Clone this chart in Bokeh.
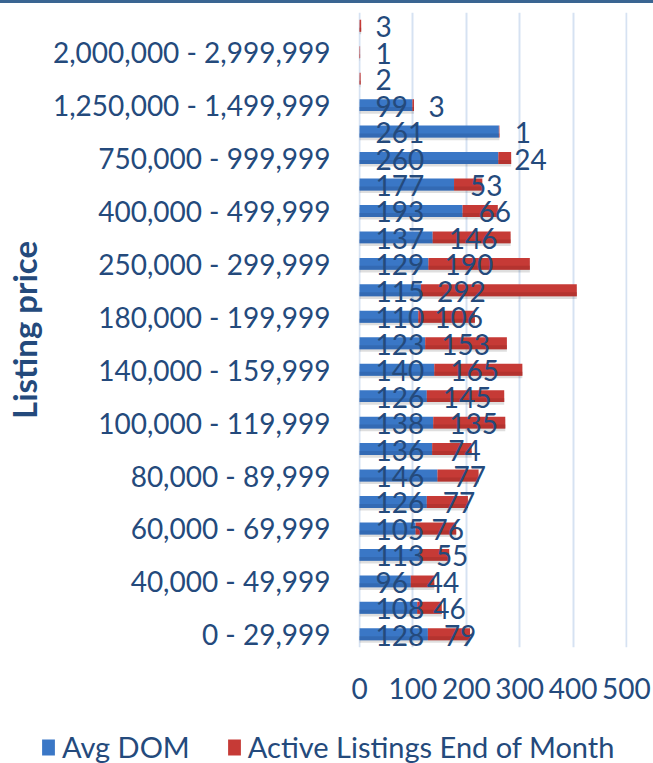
from bokeh.plotting import figure
from bokeh.models import (FactorRange, Range1d, ColumnDataSource, Legend, LegendItem,
                          FixedTicker, Div, CustomJSTickFormatter)
from bokeh.layouts import column
from bokeh.transform import dodge
from bokeh.core.properties import value
from bokeh.embed import file_html
from bokeh.resources import INLINE

# ---------------- data (bottom to top) ----------------
categories = [
    "0 - 29,999", "30,000 - 39,999", "40,000 - 49,999", "50,000 - 59,999",
    "60,000 - 69,999", "70,000 - 79,999", "80,000 - 89,999", "90,000 - 99,999",
    "100,000 - 119,999", "120,000 - 139,999", "140,000 - 159,999", "160,000 - 179,999",
    "180,000 - 199,999", "200,000 - 249,999", "250,000 - 299,999", "300,000 - 399,999",
    "400,000 - 499,999", "500,000 - 749,999", "750,000 - 999,999", "1,000,000 - 1,249,999",
    "1,250,000 - 1,499,999", "1,500,000 - 1,999,999", "2,000,000 - 2,999,999", "3,000,000+",
]
shown_labels = [
    "0 - 29,999", "40,000 - 49,999", "60,000 - 69,999", "80,000 - 89,999",
    "100,000 - 119,999", "140,000 - 159,999", "180,000 - 199,999", "250,000 - 299,999",
    "400,000 - 499,999", "750,000 - 999,999", "1,250,000 - 1,499,999", "2,000,000 - 2,999,999",
]
avg_dom = [128, 108, 96, 113, 105, 126, 146, 136, 138, 126, 140, 123,
           110, 115, 129, 137, 193, 177, 260, 261, 99, 0, 0, 0]
active_listings = [79, 46, 44, 55, 76, 77, 77, 74, 135, 145, 165, 153,
                   106, 292, 190, 146, 66, 53, 24, 1, 3, 2, 1, 3]
x_ticks = [0, 100, 200, 300, 400, 500]
series_names = ["Avg DOM", "Active Listings End of Month"]
axis_title = "Listing price"

# ---------------- styling ----------------
BLUE = "#3a77c6"
BLUE_DARK = "#2f63a9"
RED = "#c63a36"
RED_DARK = "#a92f2c"
TEXT = "#244a7c"
GRID = "#d6e2f2"
FONT = "Lato"

totals = [a + b for a, b in zip(avg_dom, active_listings)]
src = ColumnDataSource(dict(
    cat=categories, dom=avg_dom, act=active_listings, total=totals,
    zero=[0] * len(categories),
    dom_txt=[str(v) if v else "" for v in avg_dom],
    act_txt=[str(v) for v in active_listings],
))

p = figure(
    width=653, height=724,
    y_range=FactorRange(factors=categories, range_padding=0),
    x_range=Range1d(-2, 502),
    output_backend="svg", toolbar_location=None,
    min_border_left=357, min_border_right=26, min_border_top=9, min_border_bottom=80,
)
p.outline_line_color = None
p.background_fill_color = "white"
p.border_fill_color = "white"

# grid
p.xgrid.ticker = FixedTicker(ticks=x_ticks)
p.xgrid.grid_line_color = GRID
p.xgrid.grid_line_width = 2
p.ygrid.grid_line_color = None

# shadows
p.hbar(y=dodge("cat", -0.1, range=p.y_range), left="zero", right="total", height=0.45,
       source=src, fill_color="black", fill_alpha=0.13, line_color=None)

# bars
r_blue = p.hbar(y="cat", left="zero", right="dom", height=0.45, source=src,
                fill_color=BLUE, line_color=None)
r_red = p.hbar(y="cat", left="dom", right="total", height=0.45, source=src,
               fill_color=RED, line_color=None)
# darker lower band (gradient look)
p.hbar(y=dodge("cat", -0.15, range=p.y_range), left="zero", right="dom", height=0.15,
       source=src, fill_color=BLUE_DARK, fill_alpha=0.6, line_color=None)
p.hbar(y=dodge("cat", -0.15, range=p.y_range), left="dom", right="total", height=0.15,
       source=src, fill_color=RED_DARK, fill_alpha=0.6, line_color=None)

# data labels (inside base)
p.text(x="zero", y="cat", text="dom_txt", source=src, x_offset=16, y_offset=1,
       text_align="left", text_baseline="middle", text_color=TEXT,
       text_font=value(FONT), text_font_size="28px")
p.text(x="dom", y="cat", text="act_txt", source=src, x_offset=16, y_offset=1,
       text_align="left", text_baseline="middle", text_color=TEXT,
       text_font=value(FONT), text_font_size="28px")

# axes
xa = p.xaxis[0]
xa.ticker = FixedTicker(ticks=x_ticks)
xa.axis_line_color = None
xa.major_tick_line_color = None
xa.minor_tick_line_color = None
xa.major_label_standoff = 24
xa.major_label_text_font = FONT
xa.major_label_text_font_size = "28px"
xa.major_label_text_color = TEXT

ya = p.yaxis[0]
ya.axis_line_color = None
ya.major_tick_line_color = None
ya.minor_tick_line_color = None
ya.major_label_standoff = 22
ya.major_label_text_font = FONT
ya.major_label_text_font_size = "28px"
ya.major_label_text_color = TEXT
ya.formatter = CustomJSTickFormatter(
    args=dict(shown=shown_labels),
    code="return shown.includes(tick) ? tick : '';",
)
ya.axis_label = axis_title
ya.axis_label_text_font = FONT
ya.axis_label_text_font_style = "bold"
ya.axis_label_text_font_size = "33px"
ya.axis_label_text_color = TEXT
ya.axis_label_standoff = 6

# ---------------- legend strip ----------------
pl = figure(
    width=653, height=36, x_range=Range1d(0, 653), y_range=Range1d(0, 36),
    output_backend="svg", toolbar_location=None,
    x_axis_type=None, y_axis_type=None,
    min_border_left=0, min_border_right=0, min_border_top=0, min_border_bottom=0,
)
pl.outline_line_color = None
pl.grid.visible = False
# off-screen stand-in glyphs that only carry the legend colours
lb = pl.hbar(y=[-100], left=[0], right=[1], height=1, fill_color=BLUE, line_color=None)
lr = pl.hbar(y=[-100], left=[0], right=[1], height=1, fill_color=RED, line_color=None)
legend = Legend(
    items=[LegendItem(label=series_names[0], renderers=[lb]),
           LegendItem(label=series_names[1], renderers=[lr])],
    orientation="horizontal", location=(40, -1),
    label_text_font=FONT, label_text_font_size="29px", label_text_color=TEXT,
    glyph_width=16, glyph_height=20, label_standoff=6, spacing=36,
    padding=0, margin=0, border_line_color=None, background_fill_alpha=0,
)
pl.add_layout(legend, "center")

for fig in (p, pl):
    if "frame_align" in fig.properties():
        fig.frame_align = False

top_bar = Div(width=653, height=3, margin=(0, 0, 0, 0),
              styles={"background-color": "#3a6592"})
layout = column(top_bar, p, pl, spacing=0)

open("out.html", "w").write(file_html(layout, INLINE))
